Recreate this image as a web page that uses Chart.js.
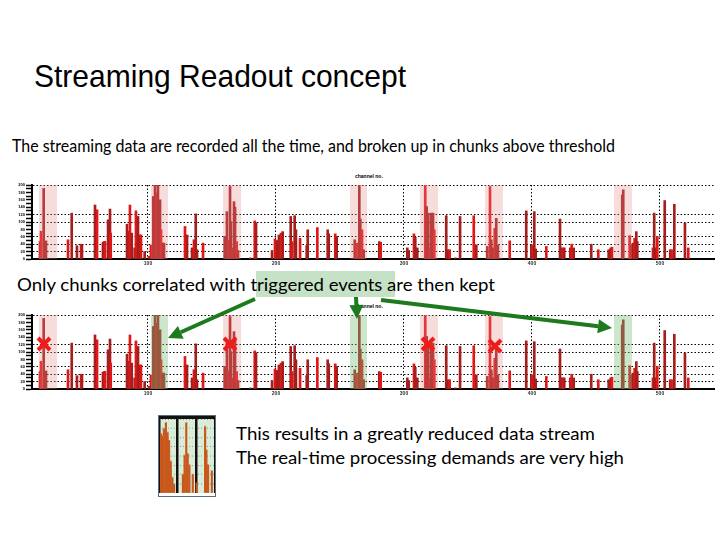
<!DOCTYPE html>
<html>
<head>
<meta charset="utf-8">
<script src="https://cdn.jsdelivr.net/npm/chart.js@4.4.0/dist/chart.umd.min.js"></script>
<style>
body { margin: 0; width: 720px; height: 540px; background: #fff; position: relative; overflow: hidden; }
.t { position: absolute; white-space: nowrap; line-height: 1; transform-origin: 0 0; color: #000; font-family: Lato, sans-serif; }
.ch { position: absolute; }
.tiny { position: absolute; font: bold 5px "Liberation Sans", sans-serif; color: #000; white-space: nowrap; }
#hl { position: absolute; left: 256px; top: 271px; width: 139px; height: 26px; background: #c6e2c6; }
#thumb { position: absolute; left: 158px; top: 415px; width: 56px; height: 80px; border: 1px solid #5c6d80; }
#thumb canvas { border-top: 3px solid #111; background: #d8ecd8; }
#ov { position: absolute; left: 0; top: 0; z-index: 5; pointer-events: none; }
</style>
</head>
<body>
<div class="t" data-w="372" style="left:34px;top:60px;font-family:'Liberation Sans',sans-serif;font-size:32px;">Streaming Readout concept</div>
<div class="t" data-w="603" style="left:12px;top:137px;font-size:17px;">The streaming data are recorded all the time, and broken up in chunks above threshold</div>
<div id="hl"></div>
<div class="t" data-w="478" style="left:17px;top:275px;font-size:18px;">Only chunks correlated with triggered events are then kept</div>
<div class="t" data-w="359" style="left:236px;top:424px;font-size:18px;">This results in a greatly reduced data stream</div>
<div class="t" data-w="388" style="left:236px;top:448px;font-size:18px;">The real-time processing demands are very high</div>

<div class="tiny" style="left:355px;top:173px;">channel no.</div>
<div class="tiny" style="left:355px;top:303px;">channel no.</div>

<canvas id="chart1" class="ch" width="720" height="96" style="left:0;top:175px;"></canvas>
<canvas id="chart2" class="ch" width="720" height="96" style="left:0;top:305px;"></canvas>
<div id="thumb"><canvas id="chart3" width="56" height="77"></canvas></div>
<canvas id="ov" width="720" height="540"></canvas>

<script>
var timeBins = [15.6, 16.4, 18.5, 20.3, 37.5, 40.4, 44.5, 47.7, 48.4, 58.6,
  60.2, 64.8, 65.6, 66.4, 68.8, 70.3, 70.9, 83.6, 84.4, 85.9,
  87.3, 89.6, 90.6, 92.2, 93.8, 94.5, 97.4, 100.8, 102.3, 104.1,
  105.5, 106.8, 107.8, 109.4, 110.2, 111.5, 112.5, 128.9, 130.5, 134.4,
  135.9, 137.3, 138.3, 143.0, 159.9, 161.7, 163.0, 164.1, 164.8, 166.4,
  167.2, 168.0, 169.3, 170.3, 179.9, 183.4, 184.4, 196.9, 199.2, 200.8,
  202.3, 203.9, 205.2, 211.5, 212.5, 214.6, 215.6, 218.8, 224.0, 224.8,
  232.3, 240.4, 241.2, 246.3, 247.4, 261.5, 263.0, 265.1, 265.9, 267.2,
  268.5, 280.7, 281.8, 302.6, 303.7, 307.8, 308.8, 310.4, 316.6, 317.7,
  319.0, 320.3, 321.3, 322.7, 323.7, 333.0, 334.4, 335.7, 340.1, 343.8,
  354.5, 356.5, 365.1, 367.2, 368.2, 369.5, 370.9, 372.1, 373.4, 382.6,
  395.5, 399.5, 400.6, 401.8, 402.9, 411.2, 421.9, 422.9, 424.2, 425.2,
  429.9, 431.0, 432.6, 446.3, 451.8, 459.9, 461.5, 462.5, 470.5, 471.3,
  476.3, 477.9, 478.9, 480.2, 481.5, 482.3, 494.5, 495.5, 497.1, 497.9,
  503.7, 508.0, 509.1, 511.2, 519.5, 522.1];
var amplitudes = [47, 75, 191, 49, 52, 124, 36, 40, 38, 146,
  133, 45, 47, 48, 106, 135, 70, 94, 75, 146,
  70, 30, 130, 115, 65, 65, 20, 7, 38, 169,
  200, 178, 200, 160, 79, 43, 43, 88, 65, 30,
  52, 122, 25, 43, 61, 128, 50, 196, 101, 30,
  155, 140, 47, 23, 3, 103, 98, 23, 54, 50,
  65, 70, 74, 115, 47, 117, 79, 56, 36, 79,
  85, 79, 68, 68, 61, 52, 43, 200, 108, 79,
  25, 47, 45, 30, 23, 68, 59, 30, 200, 142,
  124, 30, 124, 124, 79, 117, 25, 25, 3, 115,
  117, 38, 34, 196, 52, 30, 83, 110, 38, 49,
  130, 38, 38, 128, 27, 34, 108, 30, 30, 30,
  30, 40, 30, 40, 25, 25, 30, 32, 173, 187,
  63, 38, 43, 56, 74, 47, 30, 124, 30, 61,
  158, 25, 25, 148, 97, 30];

// chunks above threshold, and which ones matched a trigger
var chunkStart = [14.8, 102.3, 158.6, 257.8, 312.5, 363.3, 464.1];
var chunkEnd = [28.9, 115.6, 172.7, 271.1, 326.6, 377.3, 478.1];
var chunkKept = [false, true, false, true, false, false, true];

var xTicks = [100, 200, 300, 400, 500];
var yTicks = [0, 10, 20, 30, 40, 50, 60, 70, 80, 90, 100, 110, 120, 130, 140, 150, 160, 170, 180, 190, 200];
var yGuides = [20, 40, 60, 100, 120, 200];

// small thumbnail of the reduced stream
var thumbBins = [1.1, 1.9, 2.6, 3.7, 4.6, 5.4, 6.3, 7.2, 8.1, 12.8, 13.7, 14.6, 15.4, 16.3, 18.1, 20.2, 24.7, 25.4, 26.3, 28.3];
var thumbValues = [80, 77, 87, 95, 82, 71, 43, 21, 12, 25, 51, 95, 53, 38, 25, 14, 90, 58, 38, 30];

var chunkPlugin = {
  id: 'chunks',
  afterDatasetsDraw: function (chart, args, opts) {
    var x = chart.scales.x, a = chart.chartArea, ctx = chart.ctx;
    ctx.save();
    for (var i = 0; i < chunkStart.length; i++) {
      var kept = opts.trigger && chunkKept[i];
      ctx.fillStyle = kept ? 'rgba(120,190,120,0.38)' : 'rgba(228,140,140,0.3)';
      var x0 = x.getPixelForValue(chunkStart[i]), x1 = x.getPixelForValue(chunkEnd[i]);
      ctx.fillRect(x0, a.top, x1 - x0, a.bottom - a.top);
    }
    ctx.restore();
  }
};

function streamChart(id, trigger) {
  var ctx = document.getElementById(id).getContext('2d');
  return new Chart(ctx, {
    type: 'bar',
    data: {
      datasets: [{
        data: timeBins.map(function (t, i) { return { x: t, y: amplitudes[i] }; }),
        backgroundColor: function (c) { return c.dataIndex % 3 === 1 ? '#e31616' : '#a51e1e'; },
        barThickness: 2,
        grouped: false
      }]
    },
    plugins: [chunkPlugin],
    options: {
      responsive: false,
      animation: false,
      layout: { padding: { top: 10, right: 6 } },
      plugins: { legend: { display: false }, tooltip: { enabled: false }, chunks: { trigger: trigger } },
      scales: {
        x: {
          type: 'linear', min: 9.375, max: 542.2, offset: false,
          afterBuildTicks: function (s) { s.ticks = xTicks.map(function (v) { return { value: v }; }); },
          afterFit: function (s) { s.height = 12; },
          grid: { color: '#000', lineWidth: 1, drawTicks: false, offset: false },
          border: { color: '#000', width: 2, dash: [1.5, 2] },
          ticks: { font: { size: 5, weight: 'bold' }, color: '#333', padding: 2, autoSkip: false, maxRotation: 0 }
        },
        y: {
          min: 0, max: 200,
          afterBuildTicks: function (s) { s.ticks = yTicks.map(function (v) { return { value: v }; }); },
          afterFit: function (s) { s.width = 32; },
          grid: {
            color: function (c) { return yGuides.indexOf(c.tick.value) >= 0 ? '#000' : 'rgba(0,0,0,0)'; },
            tickColor: '#000', tickLength: 6, tickWidth: 1.5, tickBorderDash: []
          },
          border: { color: '#000', width: 2, dash: [1.5, 2] },
          ticks: {
            font: { size: 4, weight: 'bold' }, color: '#000', padding: 1, autoSkip: false,
            callback: function (v) { return v % 20 === 0 ? v : ''; }
          }
        }
      }
    }
  });
}

streamChart('chart1', false);
streamChart('chart2', true);

new Chart(document.getElementById('chart3').getContext('2d'), {
  type: 'bar',
  data: {
    datasets: [{
      data: thumbBins.map(function (t, i) { return { x: t, y: thumbValues[i] }; }),
      backgroundColor: '#c9581c',
      barThickness: 1.5,
      grouped: false
    }]
  },
  options: {
    responsive: false,
    animation: false,
    layout: { padding: 0 },
    plugins: { legend: { display: false }, tooltip: { enabled: false } },
    scales: {
      x: {
        type: 'linear', min: 0, max: 30, offset: false,
        afterBuildTicks: function (s) { s.ticks = [0, 10, 20, 30].map(function (v) { return { value: v }; }); },
        afterFit: function (s) { s.height = 0; },
        grid: { color: '#111', lineWidth: 2.5, drawTicks: false, offset: false },
        border: { display: false },
        ticks: { display: false }
      },
      y: {
        min: 0, max: 100,
        afterFit: function (s) { s.width = 0; },
        grid: { color: 'rgba(0,0,0,0.35)', drawTicks: false },
        border: { display: false, dash: [1, 2] },
        ticks: { display: false, stepSize: 12.5 }
      }
    }
  }
});

// arrows and crosses
var ov = document.getElementById('ov').getContext('2d');
function arrow(x0, y0, x1, y1) {
  var ang = Math.atan2(y1 - y0, x1 - x0), L = 14, W = 7;
  var bx = x1 - L * Math.cos(ang), by = y1 - L * Math.sin(ang);
  ov.strokeStyle = '#1d7a1d'; ov.fillStyle = '#1d7a1d'; ov.lineWidth = 4;
  ov.beginPath(); ov.moveTo(x0, y0); ov.lineTo(bx, by); ov.stroke();
  ov.beginPath();
  ov.moveTo(x1, y1);
  ov.lineTo(bx + W * Math.sin(ang), by - W * Math.cos(ang));
  ov.lineTo(bx - W * Math.sin(ang), by + W * Math.cos(ang));
  ov.closePath(); ov.fill();
}
function cross(x, y) {
  ov.strokeStyle = '#f01c1c'; ov.lineWidth = 4; ov.lineCap = 'butt';
  ov.beginPath(); ov.moveTo(x - 6, y - 6); ov.lineTo(x + 6, y + 6);
  ov.moveTo(x + 6, y - 6); ov.lineTo(x - 6, y + 6); ov.stroke();
}
arrow(255, 299, 168, 338);
arrow(356, 297, 357, 319);
arrow(381, 300, 612, 328);
cross(44, 344); cross(230, 344); cross(428, 344); cross(495, 346);

// squeeze text to the slide widths
function fit() {
  document.querySelectorAll('.t').forEach(function (el) {
    el.style.transform = '';
    var w = el.getBoundingClientRect().width;
    el.style.transform = 'scaleX(' + (parseFloat(el.dataset.w) / w) + ')';
  });
}
fit();
if (document.fonts && document.fonts.ready) document.fonts.ready.then(fit);
</script>
</body>
</html>
